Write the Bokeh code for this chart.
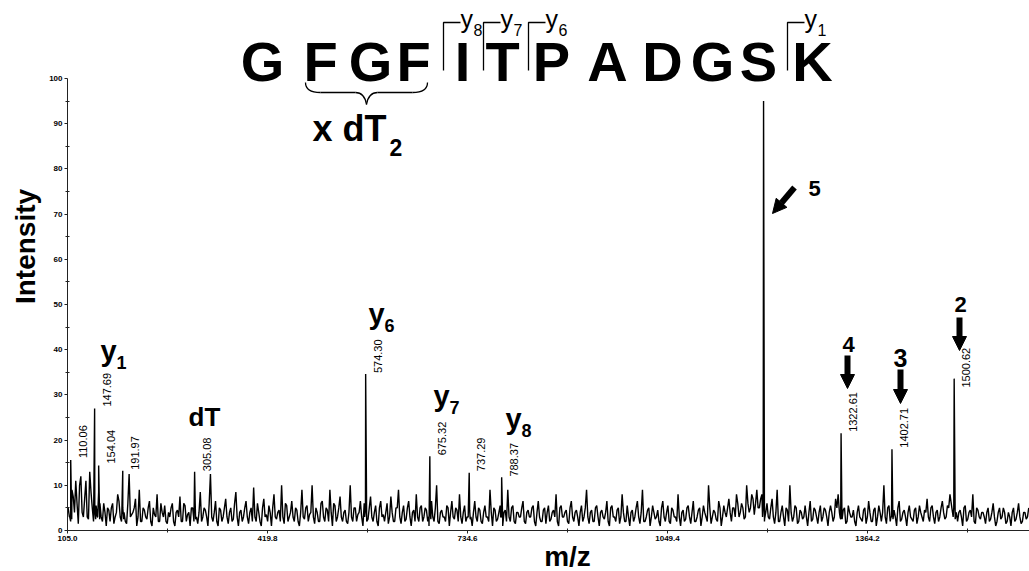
import numpy as np
from bokeh.plotting import figure
from bokeh.models import Range1d, Label, Arrow, NormalHead, FixedTicker, NumeralTickFormatter
from bokeh.core.properties import value
from bokeh.embed import file_html
from bokeh.resources import INLINE

# ---------------- data ----------------
# baseline noise: two interleaved m/z grids (step 4)
noise_a_start = 106
noise_b_start = 108
noise_step = 4
noise_a = [
    5, 2, 7.5, 11, 1.5, 12, 3, 11, 2.5, 8.5,
    2, 5.5, 8.5, 3, 6, 1, 4.5, 5, 1.5, 4,
    6.5, 2, 4, 1.5, 12.5, 3.5, 5, 1, 9, 2,
    4.5, 2.5, 6.5, 1, 3.5, 8, 2, 4, 5.5, 1.5,
    3, 6, 1, 4.5, 7.5, 2, 5.5, 3.5, 1, 5,
    6, 1.5, 8.5, 3, 4.5, 1, 12.5, 2, 6.5, 1,
    4.5, 3, 7, 1.5, 5, 2.5, 8.5, 1, 4.5, 3,
    6.5, 1.5, 5, 9.5, 2, 4, 1, 7, 3.5, 5.5,
    1, 8, 2.5, 4.5, 10, 1.5, 5.5, 3, 6.5, 2,
    4.5, 1, 9, 2.5, 5.5, 3.5, 10, 1.5, 4, 2,
    6.5, 2, 4.5, 9, 1, 5.5, 3, 7.5, 2, 4.5,
    1.5, 10, 2, 5, 3.5, 6.5, 1, 4.5, 2.5, 7.5,
    2, 5.5, 1, 6.5, 3.5, 4, 1.5, 7.5, 2, 5,
    9, 1.5, 5.5, 2.5, 6.5, 1, 4.5, 8, 2, 5.5,
    3, 4.5, 1, 6.5, 2, 10, 1.5, 4.5, 3, 5.5,
    1, 6.5, 2.5, 4.5, 8, 1.5, 5.5, 3, 4.5, 1,
    6.5, 2, 4.5, 1.5, 5.5, 3, 9, 1, 4.5, 2.5,
    5.5, 1, 4.5, 9, 2, 5.5, 1.5, 4, 3, 6.5,
    1.5, 4.5, 3, 5.5, 1, 6.5, 2, 4.5, 1.5, 5.5,
    2.5, 4.5, 8, 1, 5.5, 3, 4.5, 1.5, 6.5, 2,
    4.5, 1, 5.5, 3, 9, 1.5, 4.5, 2, 5.5, 1,
    4.5, 2.5, 6.5, 1, 5.5, 3, 4.5, 1.5, 8, 2,
    5.5, 1, 4.5, 3, 6.5, 1.5, 9, 2, 4.5, 1,
    5.5, 2.5, 4.5, 1, 6.5, 2, 5.5, 1.5, 4.5, 3,
    8, 1, 4.5, 2.5, 5.5, 1.5, 6.5, 2, 4.5, 1,
    5.5, 3, 10, 1.5, 4.5, 2.5, 6.5, 1, 5.5, 3,
    7, 2, 5, 8, 3, 6, 2.5, 10, 4, 8,
    3.5, 9, 5, 8, 2, 6, 2.5, 7, 1.5, 9,
    2, 5.5, 1, 4.5, 10, 2, 5.5, 1.5, 4.5, 2.5,
    5.5, 1, 6.5, 2.5, 4.5, 1.5, 5.5, 3, 4.5, 1,
    5.5, 2, 7, 8, 2.5, 4.5, 1.5, 5.5, 3, 4.5,
    1, 5.5, 2.5, 4.5, 1.5, 6.5, 2, 4.5, 1, 5.5,
    2, 10, 1.5, 5.5, 3, 4.5, 1, 6.5, 2.5, 4.5,
    1, 5.5, 2.5, 4.5, 1.5, 5.5, 3, 4.5, 7, 2,
    5.5, 1.5, 4.5, 3, 6.5, 2.5, 5.5, 8, 4, 7,
    2, 4.5, 1, 5.5, 2.5, 4.5, 8, 1.5, 4.5, 2.5,
    4, 1.5, 5, 2.5, 6, 1, 4, 2.5, 5, 1.5,
    4, 1, 5, 2.5, 6, 1.5, 4, 2.5, 5,
]
noise_b = [
    3, 9, 4, 6, 10, 4, 7, 3, 13, 5,
    4, 3, 6, 2, 4, 5, 2, 6, 3, 8,
    3, 5, 2, 6, 3, 4, 7, 3, 2, 5,
    3, 5, 2, 5, 3, 2, 6, 3, 2, 4,
    5, 2, 4, 3, 2, 6, 2, 4, 5, 2,
    3, 4, 2, 5, 3, 6, 3, 4, 2, 5,
    2, 5, 3, 4, 2, 6, 3, 4, 2, 5,
    3, 4, 2, 3, 6, 2, 5, 3, 2, 4,
    5, 3, 4, 2, 3, 6, 2, 4, 3, 5,
    2, 4, 3, 5, 2, 4, 3, 5, 2, 6,
    3, 5, 2, 4, 6, 2, 5, 3, 4, 2,
    4, 3, 5, 2, 4, 3, 6, 2, 5, 3,
    4, 2, 5, 3, 2, 6, 3, 4, 2, 5,
    3, 4, 2, 5, 3, 4, 2, 3, 5, 2,
    5, 2, 4, 3, 5, 2, 4, 3, 2, 5,
    4, 3, 5, 2, 3, 4, 2, 5, 3, 4,
    3, 5, 2, 4, 3, 2, 4, 5, 2, 4,
    3, 4, 2, 3, 5, 2, 4, 3, 5, 2,
    4, 3, 5, 2, 4, 3, 2, 5, 4, 2,
    4, 3, 2, 5, 3, 4, 2, 5, 3, 4,
    3, 4, 2, 5, 3, 4, 2, 5, 3, 4,
    3, 4, 2, 5, 3, 2, 5, 3, 4, 2,
    3, 4, 2, 5, 3, 4, 2, 3, 5, 3,
    4, 3, 2, 5, 3, 4, 2, 5, 3, 2,
    3, 4, 2, 5, 3, 4, 2, 3, 5, 3,
    4, 2, 5, 3, 4, 2, 5, 3, 4, 5,
    4, 5, 3, 6, 4, 5, 3, 6, 5, 7,
    6, 5, 7, 5, 4, 3, 5, 3, 4, 2,
    4, 3, 5, 2, 4, 3, 5, 2, 4, 3,
    3, 4, 2, 5, 3, 4, 2, 5, 3, 4,
    4, 3, 5, 4, 3, 5, 2, 4, 3, 2,
    4, 3, 2, 5, 3, 4, 2, 5, 3, 4,
    4, 3, 5, 2, 4, 3, 5, 2, 4, 3,
    4, 3, 2, 5, 3, 4, 2, 4, 3, 5,
    3, 4, 2, 5, 4, 3, 5, 6, 5, 4,
    4, 3, 5, 2, 4, 3, 2, 5, 3, 4,
    3, 4, 2, 4, 3, 2, 5, 3, 4, 2,
    3, 4, 2, 4, 3, 2, 4, 3, 4,
]

# annotated / main peaks (m/z, relative intensity)
peak_mz = [110.06, 147.69, 154.04, 191.97, 305.08, 574.30, 675.32, 737.29,
           788.37, 1200.6, 1322.61, 1402.71, 1500.62]
peak_int = [15.6, 27.0, 14.4, 13.2, 13.0, 34.6, 16.4, 12.8,
            11.8, 95.0, 21.5, 18.0, 33.6]

# rotated m/z labels
label_mz = [110.06, 147.69, 154.04, 191.97, 305.08, 574.30, 675.32, 737.29,
            788.37, 1322.61, 1402.71, 1500.62]
label_text = ["110.06", "147.69", "154.04", "191.97", "305.08", "574.30", "675.32",
              "737.29", "788.37", "1322.61", "1402.71", "1500.62"]
label_int = [15.8, 27.2, 14.6, 13.2, 12.9, 34.6, 16.4, 12.9, 11.7, 21.6, 18.1, 31.4]

x_ticks = [105.0, 419.8, 734.6, 1049.4, 1364.2]
x_minor = [262.4, 577.2, 892.0, 1206.8, 1521.6]
y_ticks = [0, 10, 20, 30, 40, 50, 60, 70, 80, 90, 100]
y_minor = [5, 15, 25, 35, 45, 55, 65, 75, 85, 95]

sequence = ["G", "F", "G", "F", "I", "T", "P", "A", "D", "G", "S", "K"]
frag_ions = ["8", "7", "6", "1"]

# ---------------- layout ----------------
W, H = 1029, 571
X0PX, Y0PX = 67, 530          # pixel position of (105.0, 0)
PX_PER_MZ = 200 / 314.8
PX_PER_INT = 4.52
XMIN = 105.0
XMAX = 1619.0
FONT = "Liberation Sans"


def X(px):
    return XMIN + (px - X0PX) / PX_PER_MZ


def Y(py):
    return (Y0PX - py) / PX_PER_INT


p = figure(width=W, height=H, x_range=Range1d(X(0), X(W)), y_range=Range1d(Y(H), Y(0)),
           output_backend="svg", toolbar_location=None, min_border=0)
p.outline_line_color = None
p.xgrid.visible = False
p.ygrid.visible = False
p.background_fill_color = "white"
p.border_fill_color = "white"

# spectrum trace: noise grids + peaks merged and sorted by m/z
a_mz = noise_a_start + noise_step * np.arange(len(noise_a))
b_mz = noise_b_start + noise_step * np.arange(len(noise_b))
pk_mz = np.array(peak_mz)
pk_int = np.array(peak_int)
all_mz = np.concatenate([a_mz, b_mz, pk_mz - 1.6, pk_mz, pk_mz + 1.6])
all_int = np.concatenate([np.array(noise_a, dtype=float), np.array(noise_b, dtype=float),
                          np.full(len(pk_mz), 3.0), pk_int, np.full(len(pk_mz), 2.5)])
order = np.argsort(all_mz, kind="stable")
keep = all_mz[order] <= XMAX
p.line(all_mz[order][keep], all_int[order][keep], line_color="black", line_width=1.4)

# axes (placed at fixed data locations)
p.xaxis.fixed_location = 0
p.yaxis.fixed_location = XMIN
p.xaxis.bounds = (XMIN, XMAX)
p.yaxis.bounds = (0, 100)
p.xaxis.ticker = FixedTicker(ticks=x_ticks, minor_ticks=x_minor)
p.yaxis.ticker = FixedTicker(ticks=y_ticks, minor_ticks=y_minor)
p.xaxis.formatter = NumeralTickFormatter(format="0.0")
for ax in (p.xaxis, p.yaxis):
    ax.axis_line_color = "#222222"
    ax.axis_line_width = 1
    ax.major_tick_line_color = "#222222"
    ax.minor_tick_line_color = "#222222"
    ax.major_tick_out = 3
    ax.major_tick_in = 0
    ax.minor_tick_out = 2
    ax.minor_tick_in = 2
    ax.major_label_text_font = FONT
    ax.major_label_text_font_size = "8px"
    ax.major_label_text_font_style = "bold"
    ax.major_label_text_color = "black"
    ax.major_label_standoff = 2

# rotated m/z labels next to peaks
p.text(x=label_mz, y=label_int, text=label_text, angle=np.pi / 2, x_offset=12,
       y_offset=-1, text_align="left", text_baseline="middle",
       text_font_size="11px", text_color="black", text_font=value(FONT))


def lab(px, py, text, size, bold=True, align="left", angle=0.0):
    """py is the vertical centre of capital letters (text_baseline middle)."""
    p.add_layout(Label(x=X(px), y=Y(py), text=text, text_font=FONT,
                       text_font_size=f"{size}px",
                       text_font_style="bold" if bold else "normal",
                       text_align=align, text_baseline="middle", angle=angle,
                       text_color="black"))


# axis titles
lab(25, 246, "Intensity", 28, align="center", angle=np.pi / 2)
lab(567, 556, "m/z", 28, align="center")

# peptide sequence
seq_px = [262, 320, 370, 413, 462, 502, 551, 607, 662, 712, 758, 812]
for ch, cx in zip(sequence, seq_px):
    lab(cx, 61, ch, 56, align="center")

# fragment brackets above sequence
brk_px = [443, 483, 528, 787]
for ion, bx in zip(frag_ions, brk_px):
    p.line([X(bx), X(bx), X(bx + 17)], [Y(70), Y(22), Y(22)], line_color="black", line_width=1.3)
    lab(bx + 17, 18, "y", 25, bold=False)
    lab(bx + 30, 29, ion, 16, bold=False)

# curly brace under F G F
p.quadratic(x0=X(305), y0=Y(82), x1=X(320), y1=Y(92), cx=X(305), cy=Y(92),
            line_color="black", line_width=1.3)
p.line([X(320), X(355)], [Y(92), Y(92)], line_color="black", line_width=1.3)
p.quadratic(x0=X(355), y0=Y(92), x1=X(366), y1=Y(104), cx=X(364), cy=Y(92),
            line_color="black", line_width=1.3)
p.quadratic(x0=X(366), y0=Y(104), x1=X(377), y1=Y(92), cx=X(368), cy=Y(92),
            line_color="black", line_width=1.3)
p.line([X(377), X(412)], [Y(92), Y(92)], line_color="black", line_width=1.3)
p.quadratic(x0=X(412), y0=Y(92), x1=X(427), y1=Y(82), cx=X(427), cy=Y(92),
            line_color="black", line_width=1.3)
lab(312, 128, "x dT", 36)
lab(389, 147, "2", 23)

# ion labels in the spectrum
for px, py, main, sub in [(100, 350, "y", "1"), (368, 313, "y", "6"),
                          (433, 395, "y", "7"), (505, 418, "y", "8")]:
    lab(px, py, main, 29)
    lab(px + 16, py + 12, sub, 18)
lab(188, 416, "dT", 26)


# numbered arrows
def arrow(x0, y0, x1, y1, w=6):
    p.add_layout(Arrow(end=NormalHead(size=14, fill_color="black", line_color="black"),
                       x_start=X(x0), y_start=Y(y0), x_end=X(x1), y_end=Y(y1),
                       line_color="black", line_width=w))


arrow(794, 187, 772, 213)
arrow(847, 355, 847, 388)
arrow(900, 369, 900, 403)
arrow(959, 317, 959, 350)
lab(814, 188, "5", 22, align="center")
lab(848, 344, "4", 22, align="center")
lab(900, 357, "3", 25, align="center")
lab(960, 304, "2", 22, align="center")

open("out.html", "w").write(file_html(p, INLINE))
